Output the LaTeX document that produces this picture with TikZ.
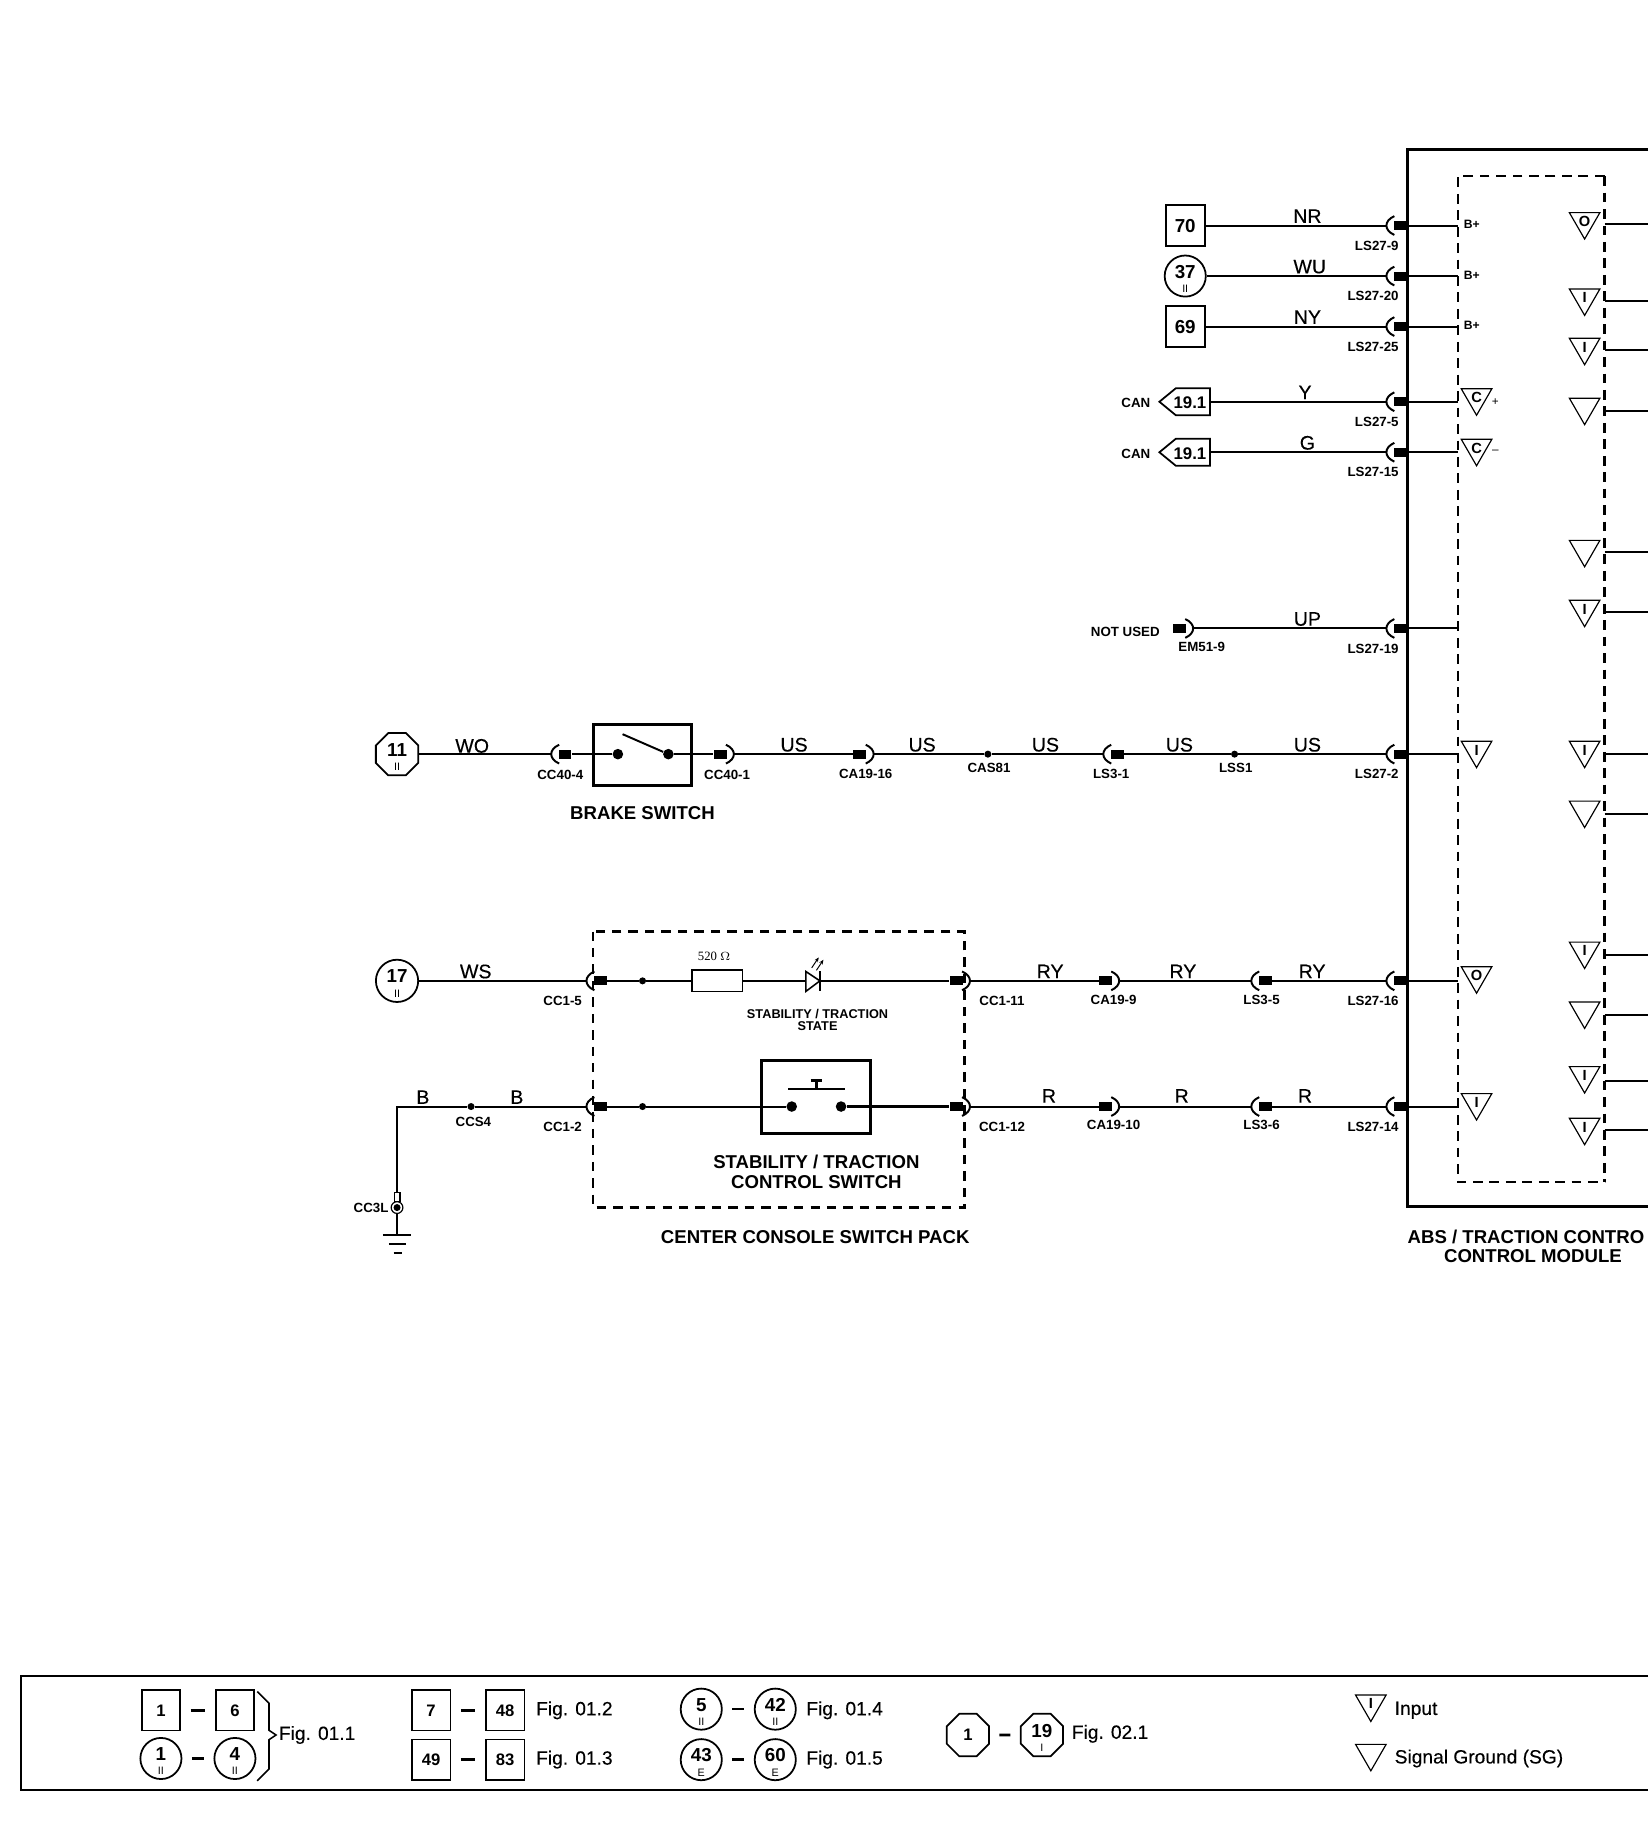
\documentclass[tikz,border=0pt]{standalone}
\usepackage{fontspec}
\setmainfont{Liberation Sans}
\newfontfamily\resfont{Liberation Serif}
\newfontfamily\medfont{Liberation Sans}[FakeBold=0.3]
\usetikzlibrary{shapes.geometric,arrows.meta}
\newcommand{\fsz}[1]{\fontsize{#1}{#1}\selectfont}
\tikzset{
  wire/.style={line width=1pt},
  heavy/.style={line width=1.6pt},
  pinblk/.style={fill=black,inner sep=0pt,minimum width=6.6pt,minimum height=4.6pt},
  jdot/.style={circle,fill=black,inner sep=0pt,minimum size=3.6pt},
  bigdot/.style={circle,fill=black,inner sep=0pt,minimum size=5.4pt},
  tag/.style={inner sep=0pt,font=\bfseries\fsz{6.8}},
  wirelbl/.style={inner sep=0pt,font=\medfont\fsz{10}},
  title/.style={inner sep=0pt,font=\bfseries\fsz{9.5},align=center},
  figlbl/.style={inner sep=0pt,font=\medfont\fsz{9.8}},
  numbox/.style={draw,line width=1pt,inner sep=0pt,minimum width=19.8pt,minimum height=20.6pt,font=\bfseries\fsz{9.6}},
  numcirc/.style={draw,line width=0.9pt,circle,inner sep=0pt,minimum size=21pt},
  numoct/.style={draw,line width=0.9pt,regular polygon,regular polygon sides=8,inner sep=0pt,minimum size=23.4pt},
  sigtri/.style={draw,line width=0.6pt,regular polygon,regular polygon sides=3,shape border rotate=180,inner sep=0pt,minimum size=18pt,font=\bfseries\fsz{7.5}},
  legdash/.style={line width=1.3pt,shorten <=4.8pt,shorten >=4.8pt},
}
\newcommand{\refnum}[2]{\makebox[0pt]{\raisebox{-1.05pt}[0pt][0pt]{\bfseries\fsz{9.6}#1}}\makebox[0pt]{\raisebox{-8.4pt}[0pt][0pt]{\fsz{5.5}#2}}}
\newcommand{\plugL}[3]{\node[pinblk] (#1) at (#2,#3) {};
  \coordinate (#1a) at (#2-12,#3);
  \draw[wire,shift={(#2,#3)}] (-5,-8) .. controls (-14,-4) and (-14,4) .. (-5,8);}
\newcommand{\plugR}[3]{\node[pinblk] (#1) at (#2,#3) {};
  \coordinate (#1a) at (#2+12,#3);
  \draw[wire,shift={(#2,#3)}] (5,-8) .. controls (14,-4) and (14,4) .. (5,8);}
\newcommand{\lsplug}[3]{\plugL{#1}{1192}{#2}
  \node[tag,anchor=east] (#1t) at (1191,#2+17) {#3};
  \coordinate (#1d) at (1241,#2);
  \draw[wire] (#1) -- (#1d);}
\newcommand{\sigout}[4]{\node[sigtri] (#1) at (1349,#2+7.5) {#3};
  \coordinate (#1p) at (1366,#4);
  \coordinate (#1e) at (1403,#4);
  \draw[wire] (#1p) -- (#1e);}

\begin{document}
\begin{tikzpicture}[x=0.6pt,y=-0.6pt]
\useasboundingbox (0,0) rectangle (1403,1563);
% control module
\draw[line width=1.6pt] (1403,127) -- (1198,127) -- (1198,1027) -- (1403,1027);
\draw[line width=0.8pt,dash pattern=on 5pt off 3.4pt] (1366,150) -- (1241,150) -- (1241,1006) -- (1366,1006);
\draw[line width=1.2pt,dash pattern=on 5pt off 3.4pt] (1366,150) -- (1366,1006);
\node[title,anchor=west] (absa) at (1198,1053) {ABS / TRACTION CONTRO};
\node[title] (absb) at (1305,1069) {CONTROL MODULE};

% feeds into the module
\node[numbox] (n70) at (1009,192) {70};
\node[numcirc] (n37) at (1009,235) {\refnum{37}{II}};
\node[numbox] (n69) at (1009,278) {69};
\lsplug{lsa}{192}{LS27-9}
\lsplug{lsb}{235}{LS27-20}
\lsplug{lsc}{278}{LS27-25}
\lsplug{lsd}{342}{LS27-5}
\lsplug{lse}{385}{LS27-15}
\lsplug{lsf}{535}{LS27-19}
\lsplug{lsg}{642}{LS27-2}
\lsplug{lsh}{835}{LS27-16}
\lsplug{lsi}{942}{LS27-14}
\draw[wire] (n70) -- (lsaa);
\draw[wire] (n37) -- (lsba);
\draw[wire] (n69) -- (lsca);
\node[wirelbl] (wnr) at (1113,184) {NR};
\node[wirelbl] (wwu) at (1115,227) {WU};
\node[wirelbl] (wny) at (1113,270) {NY};
\node[wirelbl] (wy) at (1111,334) {Y};
\node[wirelbl] (wg) at (1113,377) {G};
\node[wirelbl] (wup) at (1113,527) {UP};
\foreach \py in {342,385}{
  \draw[line width=0.9pt] (987,\py) -- (1001,\py-11.5) -- (1030,\py-11.5) -- (1030,\py+11.5) -- (1001,\py+11.5) -- cycle;
}
\node[inner sep=0pt,font=\bfseries\fsz{8.6}] (cana) at (1013,343) {19.1};
\node[inner sep=0pt,font=\bfseries\fsz{8.6}] (canb) at (1013,386) {19.1};
\node[inner sep=0pt,font=\bfseries\fsz{6.8}] (cant) at (967,343) {CAN};
\node[inner sep=0pt,font=\bfseries\fsz{6.8}] (canu) at (967,386) {CAN};
\coordinate (cane) at (1030,342);
\coordinate (canf) at (1030,385);
\draw[wire] (cane) -- (lsda);
\draw[wire] (canf) -- (lsea);
\node[inner sep=0pt,font=\bfseries\fsz{6.8}] (notused) at (958,538) {NOT USED};
\plugR{em}{1004}{535}
\node[tag] (emt) at (1023,551) {EM51-9};
\draw[wire] (ema) -- (lsfa);

% pins of the inner box, left side
\node[inner sep=0pt,font=\bfseries\fsz{6.2}] (bpa) at (1253,191) {B+};
\node[inner sep=0pt,font=\bfseries\fsz{6.2}] (bpb) at (1253,234) {B+};
\node[inner sep=0pt,font=\bfseries\fsz{6.2}] (bpc) at (1253,277) {B+};
\node[sigtri] (tca) at (1257,338.5) {C};
\node[sigtri] (tcb) at (1257,381.5) {C};
\node[inner sep=0pt,font=\fsz{6}] (tcp) at (1273,342) {+};
\node[inner sep=0pt,font=\fsz{6}] (tcm) at (1273,385) {--};
\node[sigtri] (tla) at (1257,638.5) {I};
\node[sigtri] (tlb) at (1257,830.5) {O};
\node[sigtri] (tlc) at (1257,938.5) {I};

% pins of the inner box, right side
\sigout{tra}{181}{O}{191}
\sigout{trb}{246}{I}{256}
\sigout{trc}{288}{I}{298}
\sigout{trd}{339}{}{350}
\sigout{tre}{460}{}{470}
\sigout{trf}{511}{I}{521}
\sigout{trg}{631}{I}{642}
\sigout{trh}{682}{}{693}
\sigout{tri}{802}{I}{813}
\sigout{trj}{853}{}{864}
\sigout{trk}{908}{I}{920}
\sigout{trl}{952}{I}{962}

% brake switch line
\node[numoct] (n11) at (338,642) {\refnum{11}{II}};
\plugL{cca}{481}{642}
\node[tag] (ccat) at (477,660) {CC40-4};
\node[draw,line width=1.6pt,inner sep=0pt,minimum width=50.4pt,minimum height=31.2pt] (brake) at (547,643) {};
\node[bigdot] (bsa) at (526,642) {};
\node[bigdot] (bsb) at (569,642) {};
\coordinate (blade) at (530,625);
\draw[wire] (bsb) -- (blade);
\node[title] (braket) at (547,692) {BRAKE SWITCH};
\plugR{ccb}{613}{642}
\node[tag] (ccbt) at (619,660) {CC40-1};
\plugR{caa}{732}{642}
\node[tag] (caat) at (737,659) {CA19-16};
\node[jdot] (cas) at (841,642) {};
\node[tag] (cast) at (842,654) {CAS81};
\plugL{lta}{951}{642}
\node[tag] (ltat) at (946,659) {LS3-1};
\node[jdot] (lss) at (1051,642) {};
\node[tag] (lsst) at (1052,654) {LSS1};
\draw[wire] (n11) -- (ccaa);
\draw[wire] (cca) -- (bsa);
\draw[wire] (bsb) -- (ccb);
\draw[wire] (ccba) -- (caa);
\draw[wire] (caaa) -- (cas) -- (ltaa);
\draw[wire] (lta) -- (lss) -- (lsga);
\node[wirelbl] (wwo) at (402,635) {WO};
\node[wirelbl] (wusa) at (676,634) {US};
\node[wirelbl] (wusb) at (785,634) {US};
\node[wirelbl] (wusc) at (890,634) {US};
\node[wirelbl] (wusd) at (1004,634) {US};
\node[wirelbl] (wuse) at (1113,634) {US};

% switch pack
\draw[line width=1.2pt,dash pattern=on 4.8pt off 3.6pt] (505,793) rectangle (821,1028);
\node[numcirc,minimum size=21.6pt] (n17) at (338,835) {\refnum{17}{II}};
\plugL{ccc}{511}{835}
\node[tag] (ccct) at (479,852) {CC1-5};
\node[jdot] (da) at (547,835) {};
\node[draw,line width=0.9pt,inner sep=0pt,minimum width=25.8pt,minimum height=10.8pt] (res) at (610.5,835) {};
\node[inner sep=0pt,font=\resfont\fsz{6.5}] (rest) at (608,814) {520 $\Omega$};
\coordinate (ledin) at (686,835);
\coordinate (ledout) at (698,835);
\draw[line width=0.8pt] (686,827) -- (698,835) -- (686,844) -- cycle;
\draw[line width=0.8pt] (698,827) -- (698,844);
\draw[line width=0.5pt,-{Stealth[length=2.4pt,width=2pt]}] (691,824) -- (697,815);
\draw[line width=0.5pt,-{Stealth[length=2.4pt,width=2pt]}] (695,826) -- (701,817);
\plugR{ccd}{814}{835}
\node[tag] (ccdt) at (853,852) {CC1-11};
\node[inner sep=0pt,align=center,font=\bfseries\fsz{6.5},text depth=0pt] (ledt) at (696,868.5) {STABILITY / TRACTION\\[-0.4pt]STATE};
\plugR{cab}{941}{835}
\node[tag] (cabt) at (948,851) {CA19-9};
\plugL{ltb}{1077}{835}
\node[tag] (ltbt) at (1074,851) {LS3-5};
\draw[wire] (n17) -- (ccca);
\draw[wire] (ccc) -- (da) -- (res);
\draw[wire] (res) -- (ledin);
\draw[wire] (ledout) -- (ccd);
\draw[wire] (ccda) -- (cab);
\draw[wire] (caba) -- (ltba);
\draw[wire] (ltb) -- (lsha);
\node[wirelbl] (wws) at (405,827) {WS};
\node[wirelbl] (wrya) at (894,827) {RY};
\node[wirelbl] (wryb) at (1007,827) {RY};
\node[wirelbl] (wryc) at (1117,827) {RY};

% stability switch line
\plugL{cce}{511}{942}
\node[tag] (ccet) at (479,959) {CC1-2};
\node[jdot] (db) at (547,942) {};
\node[draw,line width=1.4pt,inner sep=0pt,minimum width=55.8pt,minimum height=37.2pt] (stab) at (694.5,934) {};
\node[bigdot] (ssa) at (674,942) {};
\node[bigdot] (ssb) at (716,942) {};
\draw[line width=1.3pt] (671,927) -- (719,927);
\draw[line width=1.3pt] (695,927) -- (695,920) (690,920) -- (700,920);
\node[title] (stabt) at (695,997.5) {STABILITY / TRACTION\\[1pt]CONTROL SWITCH};
\node[title] (packt) at (694,1053) {CENTER CONSOLE SWITCH PACK};
\plugR{ccf}{814}{942}
\node[tag] (ccft) at (853,959) {CC1-12};
\plugR{cac}{941}{942}
\node[tag] (cact) at (948,958) {CA19-10};
\plugL{ltc}{1077}{942}
\node[tag] (ltct) at (1074,958) {LS3-6};
\draw[wire] (cce) -- (db) -- (ssa);
\draw[heavy] (ssb) -- (ccf);
\draw[wire] (ccfa) -- (cac);
\draw[wire] (caca) -- (ltca);
\draw[wire] (ltc) -- (lsia);
\node[wirelbl] (wra) at (893,933) {R};
\node[wirelbl] (wrb) at (1006,933) {R};
\node[wirelbl] (wrc) at (1111,933) {R};

% ground
\node[jdot] (ccs) at (401,942) {};
\node[tag] (ccst) at (403,955) {CCS4};
\coordinate (gcorner) at (338,942);
\node[draw,line width=0.6pt,inner sep=0pt,minimum width=3pt,minimum height=5pt] (lug) at (338,1019) {};
\node[draw,circle,line width=0.6pt,inner sep=0pt,minimum size=6pt] (cc3) at (338,1028) {};
\node[jdot] (cc3d) at (338,1028) {};
\node[tag,anchor=east] (cc3t) at (331,1028) {CC3L};
\coordinate (gnd) at (338,1051);
\draw[wire] (ccea) -- (ccs) -- (gcorner) -- (lug);
\draw[wire] (cc3) -- (gnd);
\draw[line width=1pt] (326,1051) -- (350,1051) (331,1059) -- (346,1059) (335,1067) -- (342,1067);
\node[wirelbl] (wba) at (360,934) {B};
\node[wirelbl] (wbb) at (440,934) {B};

% legend
\draw[line width=1.2pt] (1403,1427) -- (18,1427) -- (18,1524) -- (1403,1524);
\node[numbox] (lga) at (137,1456) {\fsz{8.5}1};
\node[numbox] (lgb) at (200,1456) {\fsz{8.5}6};
\node[numcirc] (lgc) at (137,1497) {\refnum{1}{II}};
\node[numcirc] (lgd) at (200,1497) {\refnum{4}{II}};
\draw[legdash] (lga) -- (lgb);
\draw[legdash] (lgc) -- (lgd);
\draw[line width=0.8pt] (219,1440) -- (229,1450) -- (229,1473) -- (235,1477) -- (229,1481) -- (229,1506) -- (219,1516);
\node[figlbl] (figa) at (270,1477) {Fig. 01.1};
\node[numbox] (lge) at (367,1456) {\fsz{8.5}7};
\node[numbox] (lgf) at (430,1456) {\fsz{8.5}48};
\node[numbox] (lgg) at (367,1498) {\fsz{8.5}49};
\node[numbox] (lgh) at (430,1498) {\fsz{8.5}83};
\draw[legdash] (lge) -- (lgf);
\draw[legdash] (lgg) -- (lgh);
\node[figlbl] (figb) at (489,1456) {Fig. 01.2};
\node[figlbl] (figc) at (489,1498) {Fig. 01.3};
\node[numcirc] (lgi) at (597,1455) {\refnum{5}{II}};
\node[numcirc] (lgj) at (660,1455) {\refnum{42}{II}};
\node[numcirc] (lgk) at (597,1498) {\refnum{43}{E}};
\node[numcirc] (lgl) at (660,1498) {\refnum{60}{E}};
\draw[legdash] (lgi) -- (lgj);
\draw[legdash] (lgk) -- (lgl);
\node[figlbl] (figd) at (719,1456) {Fig. 01.4};
\node[figlbl] (fige) at (719,1498) {Fig. 01.5};
\node[numoct] (lgm) at (824,1477) {\bfseries\fsz{8.5}1};
\node[numoct] (lgn) at (887,1477) {\refnum{19}{I}};
\draw[legdash] (lgm) -- (lgn);
\node[figlbl] (figf) at (945,1476) {Fig. 02.1};
\node[sigtri] (lgo) at (1167,1450.5) {I};
\node[figlbl,anchor=west] (inp) at (1187,1456) {Input};
\node[sigtri] (lgp) at (1167,1492.5) {};
\node[figlbl,anchor=west] (sgnd) at (1187,1497) {Signal Ground (SG)};
\end{tikzpicture}
\end{document}
